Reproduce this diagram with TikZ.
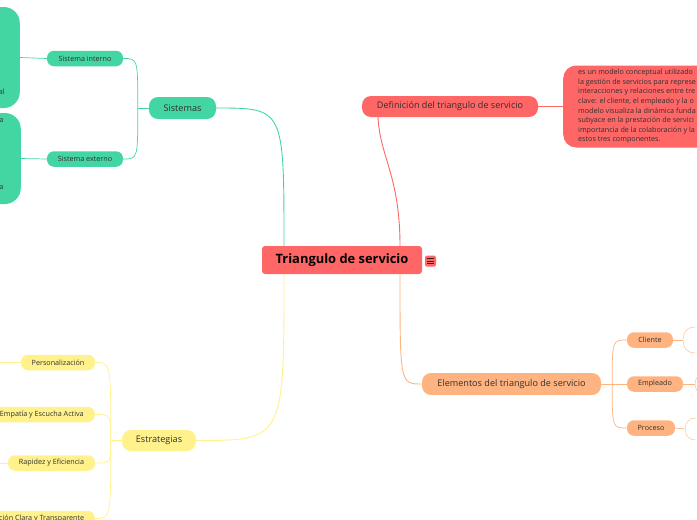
\documentclass[tikz,border=0pt]{standalone}
\usepackage{fontspec}
\setmainfont{Open Sans}
\usetikzlibrary{calc}

\definecolor{rojo}{HTML}{FF6666}
\definecolor{verde}{HTML}{43D6A3}
\definecolor{naranja}{HTML}{FFB380}
\definecolor{amarillo}{HTML}{FFF28C}
\definecolor{texto}{HTML}{303030}

\begin{document}
\begin{tikzpicture}[x=1pt,y=-1pt,
  rama/.style={rounded corners=9pt,inner sep=0pt,minimum height=22pt,text=texto,
    font=\fontsize{9.1}{11}\selectfont},
  hoja/.style={rounded corners=7pt,inner sep=0pt,minimum height=15.5pt,text=texto,
    font=\fontsize{7.2}{9}\selectfont},
  linea/.style={line width=0.9pt},
  fina/.style={line width=0.7pt}]
\useasboundingbox (0,0) rectangle (697,520);

\node[fill=rojo,rounded corners=3pt,minimum width=160pt,minimum height=28pt,inner sep=0pt,
  font=\bfseries\fontsize{12.9}{15}\selectfont] (raiz) at (342,260) {Triangulo de servicio};
\node[fill=rojo,rounded corners=1.5pt,minimum size=11pt,inner sep=0pt] (icono) at (430.5,261) {};
\foreach \dy in {-2.6,0,2.6}
  \draw[line width=0.8pt,black!85] ($(icono.center)+(-3.2,\dy)$) -- ++(6.4,0);

\node[rama,fill=rojo,minimum width=176pt,minimum height=21pt] (definicion) at (450,106.5)
  {Definición del triangulo de servicio};
\node[fill=rojo,rounded corners=13pt,minimum height=82pt,inner xsep=15pt,inner ysep=0pt,
  anchor=west,align=left,text=texto,font=\fontsize{7.2}{9.6}\selectfont] (descripcion) at (563,106.5)
  {es un modelo conceptual utilizado\\
   la gestión de servicios para represe\\
   interacciones y relaciones entre tre\\
   clave: el cliente, el empleado y la o\\
   modelo visualiza la dinámica funda\\
   subyace en la prestación de servici\\
   importancia de la colaboración y la\\
   estos tres componentes.};

\node[rama,fill=naranja,minimum width=179pt] (elementos) at (511.5,384)
  {Elementos del triangulo de servicio};
\node[hoja,fill=naranja,minimum width=46pt] (cliente) at (650,340) {Cliente};
\node[hoja,fill=naranja,minimum width=56pt] (empleado) at (655,384) {Empleado};
\node[hoja,fill=naranja,minimum width=48pt] (proceso) at (651,428) {Proceso};
\node[draw=naranja,fill=white,rounded corners=11pt,minimum width=60pt,minimum height=26pt,
  anchor=west] (clientedet) at (683,340) {};
\node[draw=naranja,fill=white,rounded corners=10pt,minimum width=60pt,minimum height=22pt,
  anchor=west] (empleadodet) at (695,384) {};
\node[draw=naranja,fill=white,rounded corners=10pt,minimum width=60pt,minimum height=22pt,
  anchor=west] (procesodet) at (685,429) {};

\node[rama,fill=verde,minimum width=67pt] (sistemas) at (182.5,108) {Sistemas};
\node[hoja,fill=verde,minimum width=76pt] (interno) at (85,58.5) {Sistema interno};
\node[hoja,fill=verde,minimum width=76pt] (externo) at (85,159) {Sistema externo};
\node[fill=verde,rounded corners=16pt,minimum width=80pt,minimum height=101pt,anchor=east]
  (internodet) at (20,57.5) {};
\node[fill=verde,rounded corners=16pt,minimum width=80pt,minimum height=91pt,anchor=east]
  (externodet) at (21,158.5) {};
\node[anchor=east,inner sep=0pt,text=texto,font=\fontsize{7.2}{9}\selectfont] (frag1) at (5,92) {al};
\node[anchor=east,inner sep=0pt,text=texto,font=\fontsize{7.2}{9}\selectfont] (frag2) at (3.5,121) {a};
\node[anchor=east,inner sep=0pt,text=texto,font=\fontsize{7.2}{9}\selectfont] (frag3) at (3.5,187.5) {a};

\node[rama,fill=amarillo,minimum width=74pt,minimum height=21pt] (estrategias) at (159,440.5) {Estrategias};
\node[hoja,fill=amarillo,minimum width=74pt] (personalizacion) at (58,362.5) {Personalización};
\node[hoja,fill=amarillo,minimum width=106pt,anchor=east] (empatia) at (95,414.5) {Empatía y Escucha Activa};
\node[hoja,fill=amarillo,minimum width=87pt] (rapidez) at (51.5,463) {Rapidez y Eficiencia};
\node[hoja,fill=amarillo,minimum width=140pt,anchor=east] (comunicacion) at (95,518.5)
  {Comunicación Clara y Transparente};
\coordinate (personalizacionfin) at (-10,362.5);
\coordinate (rapidezfin) at (-10,463);

\draw[linea,verde] ([xshift=-58pt]raiz.north) .. controls ([xshift=-58pt]raiz.north |- sistemas) .. (sistemas.east);
\draw[linea,rojo] ([xshift=58pt]raiz.north) .. controls +(0,-70) and +(2,40) .. ([xshift=-72pt]definicion.south);
\draw[linea,naranja] ([xshift=58pt]raiz.south) .. controls ([xshift=58pt]raiz.south |- elementos) .. (elementos.west);
\draw[linea,amarillo] ([xshift=-58pt]raiz.south) .. controls ([xshift=-58pt]raiz.south |- estrategias) .. (estrategias.east);

\draw[fina,rojo] (definicion.east) -- (descripcion.west);

\draw[fina,naranja] (elementos.east) -- ++(11,0) coordinate (elementosrama);
\draw[fina,naranja] (elementosrama) .. controls (elementosrama |- cliente) .. (cliente.west);
\draw[fina,naranja] (elementosrama) -- (empleado.west);
\draw[fina,naranja] (elementosrama) .. controls (elementosrama |- proceso) .. (proceso.west);
\draw[fina,naranja] (cliente.east) -- (clientedet.west);
\draw[fina,naranja] (empleado.east) -- (empleadodet.west);
\draw[fina,naranja] (proceso.east) -- (procesodet.west);

\draw[fina,verde] (sistemas.west) -- ++(-11,0) coordinate (sistemasrama);
\draw[fina,verde] (sistemasrama) .. controls (sistemasrama |- interno) .. (interno.east);
\draw[fina,verde] (sistemasrama) .. controls (sistemasrama |- externo) .. (externo.east);
\draw[fina,verde] (interno.west) -- (internodet.east);
\draw[fina,verde] (externo.west) -- (externodet.east);

\draw[fina,amarillo] (estrategias.west) -- ++(-11,0) coordinate (estrategiasrama);
\draw[fina,amarillo] (estrategiasrama) .. controls (estrategiasrama |- personalizacion) .. (personalizacion.east);
\draw[fina,amarillo] (estrategiasrama) .. controls (estrategiasrama |- empatia) .. (empatia.east);
\draw[fina,amarillo] (estrategiasrama) .. controls (estrategiasrama |- rapidez) .. (rapidez.east);
\draw[fina,amarillo] (estrategiasrama) .. controls (estrategiasrama |- comunicacion) .. (comunicacion.east);
\draw[fina,amarillo] (personalizacion.west) -- (personalizacionfin);
\draw[fina,amarillo] (rapidez.west) -- (rapidezfin);

\end{tikzpicture}
\end{document}
